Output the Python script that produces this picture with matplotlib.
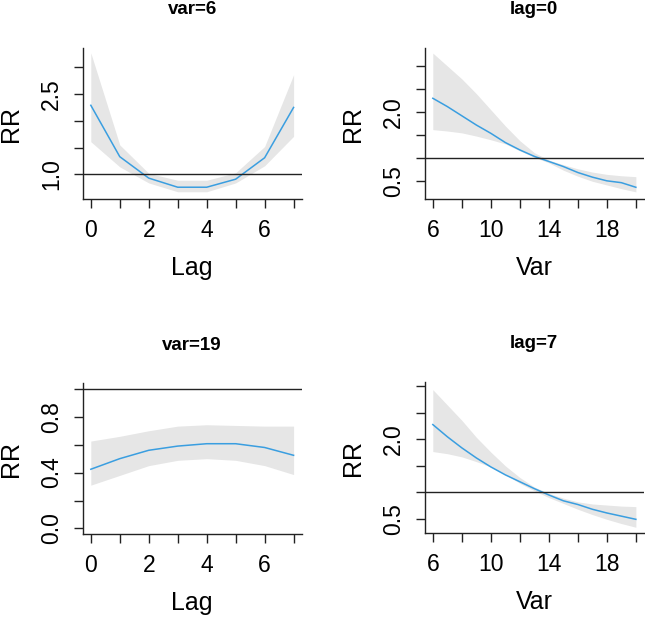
import numpy as np
import matplotlib
matplotlib.use("Agg")
import matplotlib.pyplot as plt

plt.rcParams['font.family'] = ['Liberation Sans', 'DejaVu Sans']

# lag-response at var=6
lag = [0, 1, 2, 3, 4, 5, 6, 7]
v6_rr = [2.29, 1.33, 0.93, 0.76, 0.76, 0.91, 1.31, 2.25]
v6_hi = [3.27, 1.55, 1.02, 0.89, 0.89, 1.03, 1.52, 2.86]
v6_lo = [1.61, 1.14, 0.84, 0.675, 0.675, 0.84, 1.16, 1.71]

# lag-response at var=19
v19_rr = [0.424, 0.50, 0.56, 0.59, 0.607, 0.607, 0.58, 0.524]
v19_hi = [0.626, 0.66, 0.70, 0.733, 0.743, 0.738, 0.733, 0.733]
v19_lo = [0.31, 0.38, 0.45, 0.488, 0.50, 0.488, 0.45, 0.386]

# exposure-response at lag=0 and lag=7
var = [6, 7, 8, 9, 10, 11, 12, 13, 14, 15, 16, 17, 18, 19, 20]
l0_rr = [2.30, 2.12, 1.92, 1.72, 1.54, 1.34, 1.18, 1.04, 0.93, 0.82, 0.69, 0.59, 0.51, 0.47, 0.37]
l0_hi = [3.28, 3.00, 2.72, 2.40, 2.05, 1.70, 1.38, 1.12, 0.96, 0.86, 0.77, 0.70, 0.65, 0.62, 0.60]
l0_lo = [1.62, 1.59, 1.55, 1.48, 1.40, 1.31, 1.16, 1.02, 0.90, 0.74, 0.61, 0.50, 0.42, 0.34, 0.27]

l7_rr = [2.28, 2.05, 1.84, 1.65, 1.48, 1.33, 1.20, 1.07, 0.95, 0.84, 0.77, 0.68, 0.61, 0.55, 0.49]
l7_hi = [2.94, 2.65, 2.36, 2.04, 1.76, 1.50, 1.28, 1.10, 0.98, 0.89, 0.82, 0.78, 0.76, 0.74, 0.73]
l7_lo = [1.77, 1.73, 1.67, 1.58, 1.48, 1.34, 1.17, 1.03, 0.90, 0.79, 0.68, 0.58, 0.49, 0.41, 0.34]

W, H = 645, 618
fig = plt.figure(figsize=(W / 100, H / 100), dpi=100)

line_col = '#3a9ee0'
band_col = '#e6e6e6'


def panel(box, x, rr, lo, hi, title, xlab, xlim, ylim, xt, xtl, yt, ytl):
    l, t, r, b = box
    ax = fig.add_axes([l / W, 1 - b / H, (r - l) / W, (b - t) / H])
    ax.fill_between(x, lo, hi, color=band_col, lw=0)
    ax.plot(x, rr, color=line_col, lw=1.1)
    ax.axhline(1, color='#222222', lw=1.0)
    ax.set_xlim(xlim)
    ax.set_ylim(ylim)
    ax.set_xticks(xt)
    ax.set_xticklabels(xtl)
    ax.set_yticks(yt)
    ax.set_yticklabels(ytl)
    for s in ['top', 'right']:
        ax.spines[s].set_visible(False)
    for s in ['left', 'bottom']:
        ax.spines[s].set_color('#222222')
        ax.spines[s].set_linewidth(1.0)
    ax.tick_params(length=6.7, width=1.0, color='#222222', labelsize=16.5, pad=7.5)
    ax.tick_params(axis='y', labelrotation=90)
    for lb in ax.get_yticklabels():
        lb.set_va('center')
    hgt = b - t
    wid = r - l
    ax.set_xlabel(xlab, fontsize=18)
    ax.xaxis.set_label_coords(0.5, -69 / hgt)
    ax.xaxis.label.set_va('center')
    ax.set_ylabel('RR', fontsize=18)
    ax.yaxis.set_label_coords(-72 / wid, 0.5)
    ax.yaxis.label.set_va('center')
    ax.text(0.5, 1 + 38 / hgt, title, transform=ax.transAxes, ha='center',
            va='center', fontsize=13.5, fontweight='bold')
    return ax


lag_xt = lag
lag_xtl = ['0', '', '2', '', '4', '', '6', '']
var_xt = [6, 8, 10, 12, 14, 16, 18, 20]
var_xtl = ['6', '', '10', '', '14', '', '18', '']

panel((82.7, 48, 301.7, 199), lag, v6_rr, v6_lo, v6_hi, 'var=6', 'Lag',
      (-0.28, 7.28), (0.54, 3.36), lag_xt, lag_xtl,
      [1.0, 1.5, 2.0, 2.5, 3.0], ['1.0', '', '', '2.5', ''])
panel((424.7, 48, 644, 199), var, l0_rr, l0_lo, l0_hi, 'lag=0', 'Var',
      (5.44, 20.56), (0.116, 3.39), var_xt, var_xtl,
      [0.5, 1.0, 1.5, 2.0, 2.5, 3.0], ['0.5', '', '', '2.0', '', ''])
panel((82.7, 383.3, 301.7, 534), lag, v19_rr, v19_lo, v19_hi, 'var=19', 'Lag',
      (-0.28, 7.28), (-0.04, 1.04), lag_xt, lag_xtl,
      [0.0, 0.2, 0.4, 0.6, 0.8, 1.0], ['0.0', '', '0.4', '', '0.8', ''])
panel((424.7, 381.7, 644, 533.3), var, l7_rr, l7_lo, l7_hi, 'lag=7', 'Var',
      (5.44, 20.56), (0.226, 3.09), var_xt, var_xtl,
      [0.5, 1.0, 1.5, 2.0, 2.5, 3.0], ['0.5', '', '', '2.0', '', ''])

fig.savefig('out.png', dpi=100)
